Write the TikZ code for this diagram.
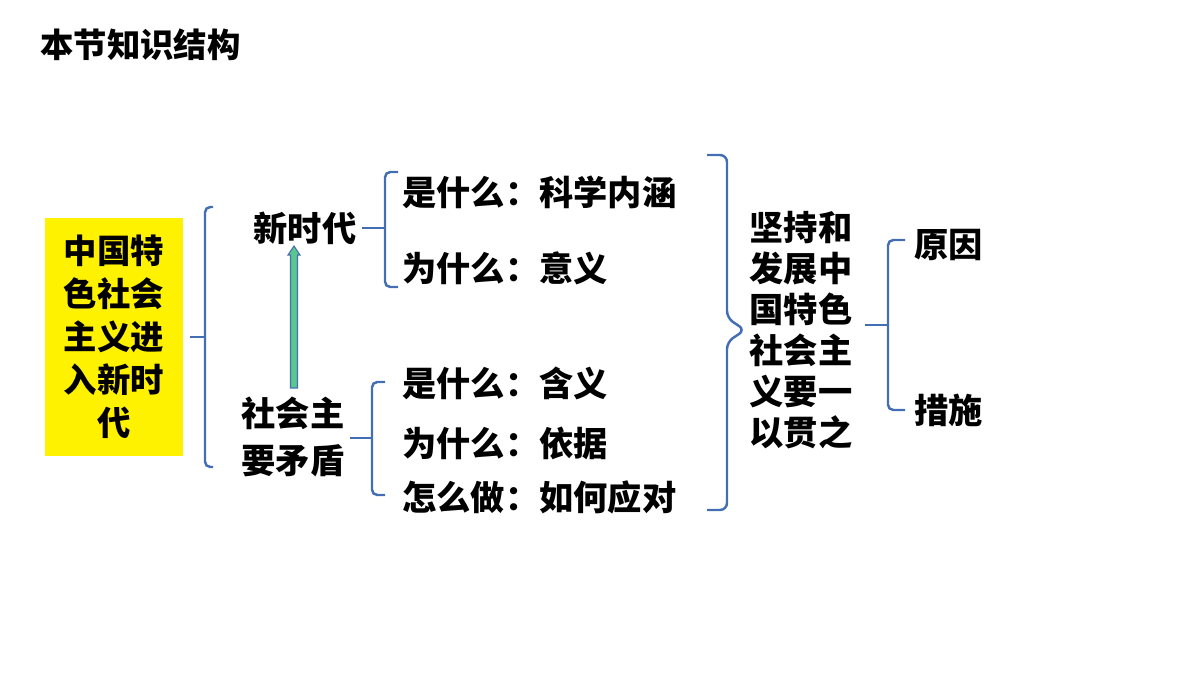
\documentclass[tikz,border=0pt]{standalone}
\usepackage{fontspec}
\setmainfont{Noto Sans CJK SC}
\definecolor{braceblue}{RGB}{68,110,180}
\definecolor{arrowgreen}{RGB}{90,200,140}
\begin{document}
\begin{tikzpicture}[x=0.02cm,y=-0.02cm,
  brace/.style={draw=braceblue, line width=1.4pt, rounded corners=3pt},
  txt/.style={font=\fontsize{19.5}{24}\selectfont\bfseries, inner sep=0pt},
  item/.style={txt, anchor=west}]
\useasboundingbox (0,0) rectangle (1200,675);
\node[txt, font=\fontsize{19}{22}\selectfont\bfseries, anchor=west] (title) at (40,45) {本节知识结构};
% yellow box
\fill[yellow] (45,218) rectangle (183,456);
\node[txt, align=center, font=\fontsize{19}{24.5}\selectfont\bfseries] (topic) at (114,337) {中国特\\色社会\\主义进\\入新时\\代};
\coordinate (b1) at (205,337);
\draw[brace] (213,207) -- (205,207) -- (205,467) -- (213,467);
\draw[brace] (190,337) -- (b1);
% 新时代
\node[txt] (era) at (305,228) {新时代};
\coordinate (b2) at (385,228);
\draw[brace] (398,172) -- (385,172) -- (385,287) -- (398,287);
\draw[brace] (362,228) -- (b2);
\node[item] (what1) at (402,192) {是什么：科学内涵};
\node[item] (why1) at (402,268) {为什么：意义};
% 主要矛盾
\node[txt, align=center, font=\fontsize{19.5}{26.5}\selectfont\bfseries] (conflict) at (293,437) {社会主\\要矛盾};
\draw[draw=braceblue, fill=arrowgreen, line width=0.6pt]
  (290.5,388) -- (290.5,255) -- (288,255) -- (294,246) -- (300,255) -- (297.5,255) -- (297.5,388) -- cycle;
\coordinate (b3) at (372,438);
\draw[brace] (385,382) -- (372,382) -- (372,495) -- (385,495);
\draw[brace] (350,438) -- (b3);
\node[item] (what2) at (402,383) {是什么：含义};
\node[item] (why2) at (402,443) {为什么：依据};
\node[item] (how2) at (402,497) {怎么做：如何应对};
% 右侧大括号
\draw[brace, rounded corners=4pt] (707,155) -- (727,155) -- (727,318) -- (745,330) -- (727,342) -- (727,510) -- (707,510);
\node[txt, align=center, font=\fontsize{19.5}{23.3}\selectfont\bfseries] (keep) at (801,330) {坚持和\\发展中\\国特色\\社会主\\义要一\\以贯之};
\coordinate (b4) at (888,325);
\draw[brace] (905,240) -- (888,240) -- (888,410) -- (905,410);
\draw[brace] (865,325) -- (b4);
\node[item] (reason) at (914,245) {原因};
\node[item] (measure) at (914,410) {措施};
\end{tikzpicture}
\end{document}
